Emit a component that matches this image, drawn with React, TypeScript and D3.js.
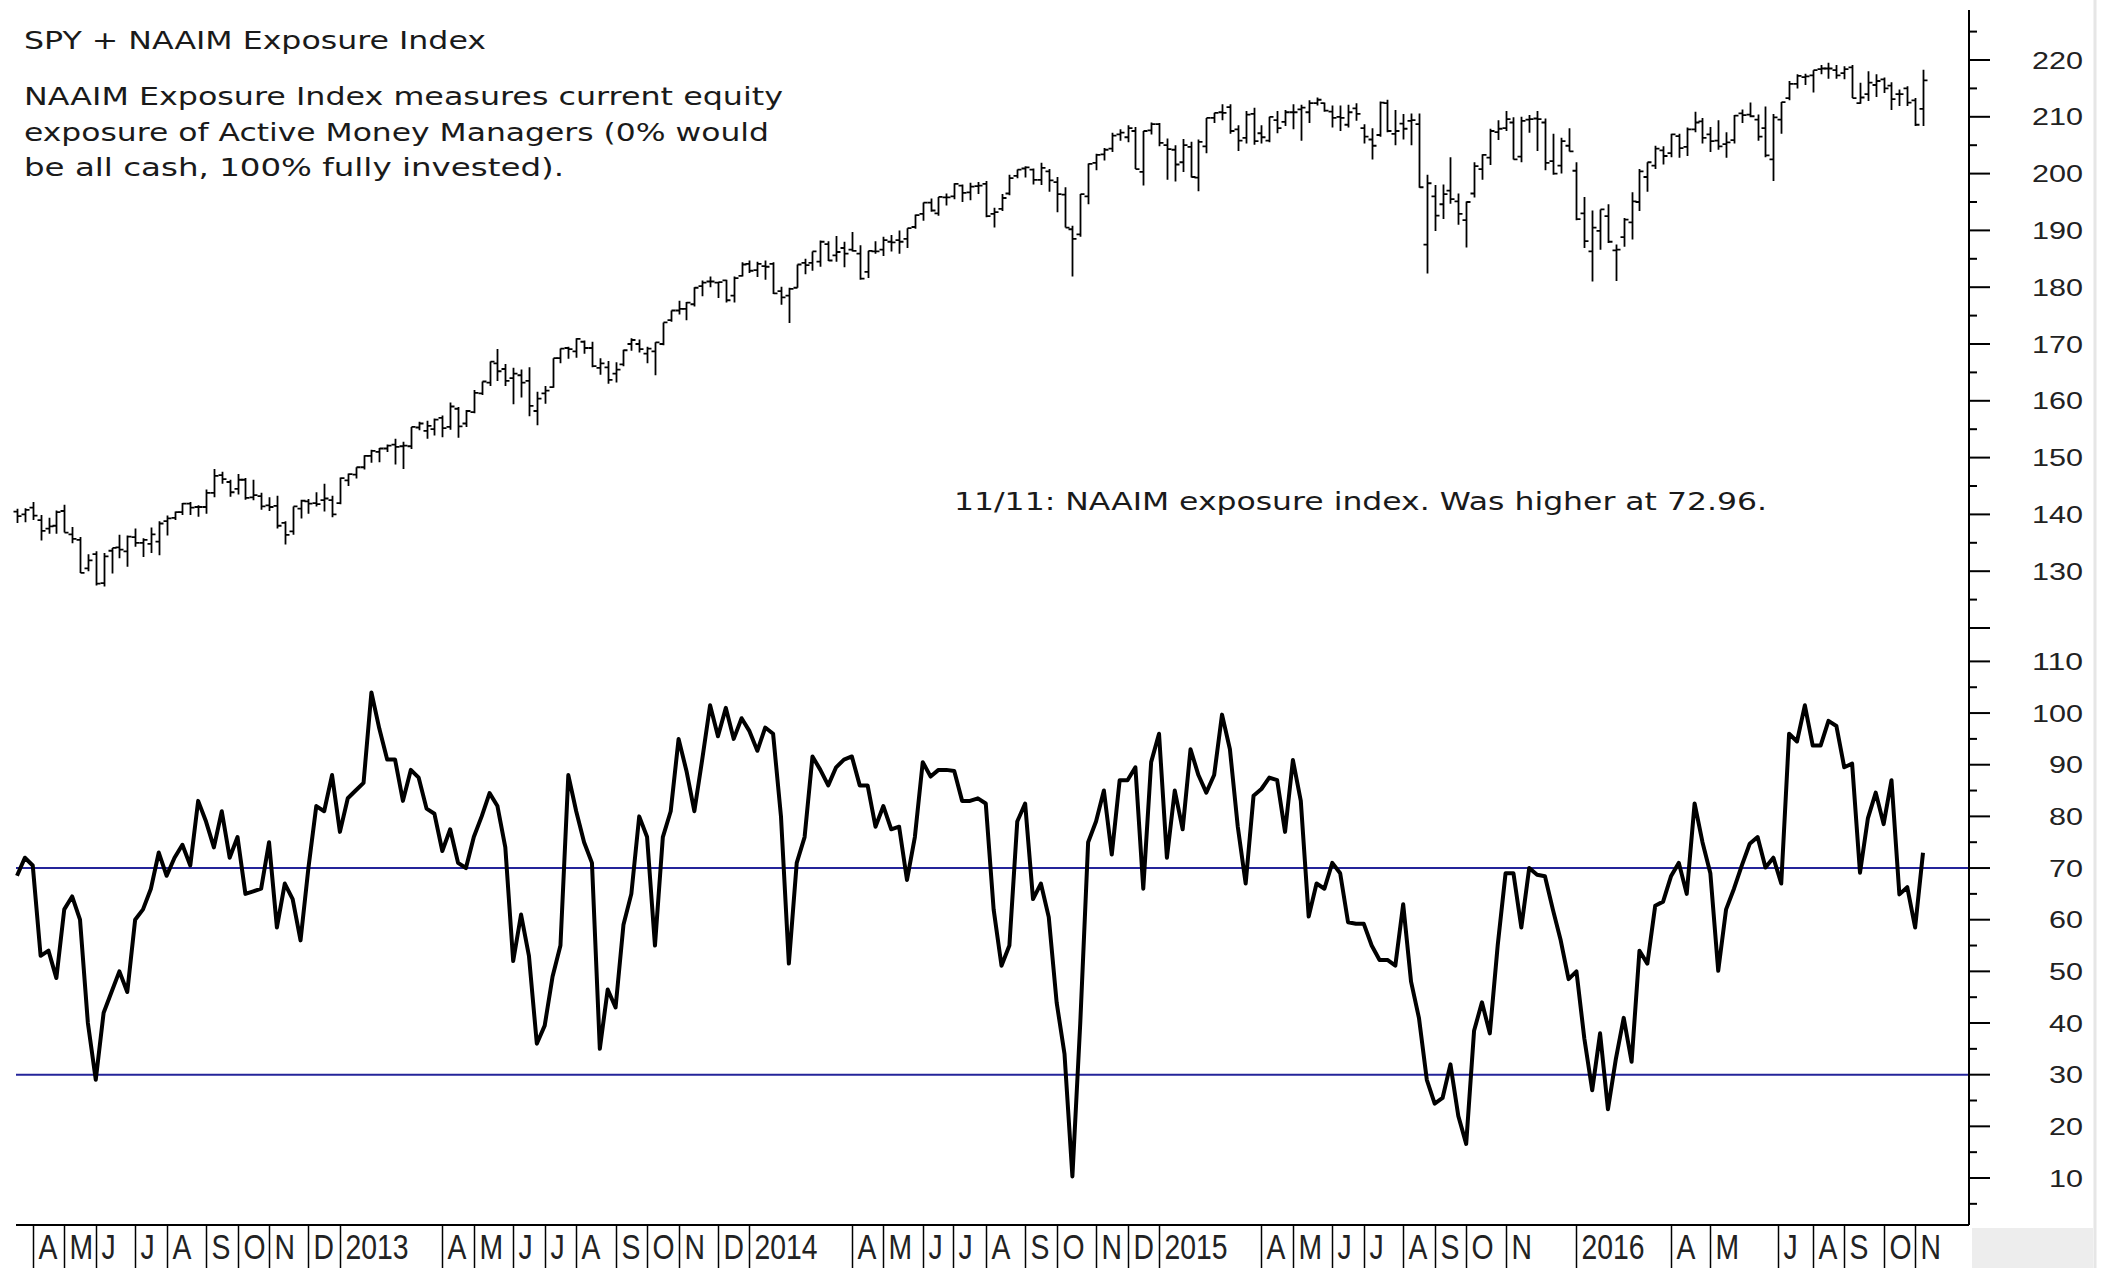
import { useEffect, useRef } from "react";
import * as d3 from "d3";

// first weekly bar (Friday); one bar per week after that
const START = "2012-03-23";

// SPY weekly bars: [open, high, low, close]
const spy2012 = [
  [140.5, 141.0, 138.5, 139.7], [140.0, 141.1, 138.6, 140.8], [141.2, 142.2, 139.0, 139.8], [139.0, 139.9, 135.4, 137.1],
  [137.5, 139.4, 136.6, 137.9], [138.0, 140.7, 136.6, 140.4], [140.6, 141.7, 136.8, 136.8], [136.5, 137.8, 134.9, 135.7],
  [135.5, 136.0, 129.7, 129.7], [130.5, 133.0, 130.0, 131.9], [133.0, 133.5, 127.5, 127.8], [127.9, 133.2, 127.3, 132.6],
  [133.6, 134.1, 129.6, 134.1], [134.2, 136.4, 132.3, 133.8], [133.5, 136.3, 130.8, 136.1], [136.0, 137.5, 134.3, 135.0],
  [135.0, 135.8, 132.5, 135.5], [134.8, 137.7, 133.2, 136.5], [135.2, 138.8, 132.8, 138.4], [138.8, 139.8, 136.3, 139.3],
  [139.4, 140.5, 139.0, 140.4], [140.4, 142.0, 139.9, 141.9], [141.9, 142.2, 139.9, 141.2], [141.3, 141.6, 139.6, 141.3],
  [141.3, 144.4, 140.1, 143.8], [143.8, 148.0, 143.0, 146.8], [146.9, 147.5, 145.4, 146.2], [145.7, 146.1, 143.1, 143.9],
  [144.5, 147.1, 143.5, 146.1], [146.1, 146.4, 142.6, 142.9], [143.0, 146.1, 142.5, 143.4], [143.2, 143.8, 140.8, 141.4],
  [141.6, 143.0, 140.6, 141.3], [141.5, 143.3, 137.5, 138.0], [138.5, 138.8, 134.7, 136.4], [137.0, 141.4, 136.4, 141.4],
  [141.0, 142.6, 139.3, 142.4], [142.3, 142.7, 140.1, 141.9], [142.0, 143.9, 141.4, 141.8], [142.5, 145.4, 140.5, 142.8],
  [142.5, 143.3, 139.5, 140.0],
];
const spy2013 = [
  [142.0, 146.5, 141.8, 146.4], [146.0, 147.2, 145.0, 147.1], [147.0, 148.3, 146.3, 148.3], [148.3, 150.4, 147.9, 150.3],
  [150.3, 151.4, 149.1, 151.2], [151.0, 151.7, 149.2, 151.6], [151.6, 152.3, 151.0, 152.1], [152.3, 153.3, 148.8, 151.9],
  [152.0, 152.8, 148.0, 152.1], [152.0, 155.4, 151.5, 155.4], [155.3, 156.3, 154.8, 156.0], [154.7, 156.5, 153.3, 155.6],
  [155.0, 156.9, 153.9, 156.7], [157.0, 157.4, 153.6, 155.2], [155.4, 159.7, 154.9, 159.0], [158.6, 158.9, 153.5, 155.5],
  [156.0, 158.4, 155.4, 158.2], [158.0, 161.9, 157.8, 161.4], [161.3, 163.4, 161.0, 163.4], [163.2, 166.9, 162.6, 166.9],
  [166.6, 169.1, 163.5, 165.2], [165.6, 166.5, 162.6, 163.5], [164.0, 165.8, 159.4, 164.8], [164.5, 165.5, 160.6, 163.2],
  [163.5, 165.9, 157.3, 159.1], [158.2, 161.6, 155.7, 160.4], [161.3, 162.6, 159.5, 161.8], [162.4, 167.5, 162.3, 167.5],
  [167.5, 169.2, 166.6, 169.2], [169.3, 169.5, 167.4, 169.1], [168.7, 171.0, 167.6, 170.9], [170.4, 170.6, 168.3, 169.3],
  [169.3, 170.4, 165.9, 166.1], [165.8, 167.5, 164.6, 166.6], [165.9, 167.0, 163.0, 163.7], [164.8, 166.8, 163.2, 165.5],
  [166.4, 169.0, 166.1, 168.9], [170.0, 171.0, 168.8, 170.7], [170.0, 170.8, 168.5, 169.1], [168.3, 169.5, 166.6, 169.2],
  [168.7, 170.3, 164.5, 170.3], [170.0, 173.8, 169.8, 173.8], [174.2, 175.9, 173.9, 175.9], [175.9, 177.6, 175.2, 176.2],
  [176.2, 177.4, 174.2, 177.3], [177.0, 180.0, 176.6, 179.9], [180.2, 181.2, 178.4, 180.8], [181.0, 181.9, 180.0, 181.0],
  [180.8, 180.9, 178.1, 180.9], [181.2, 181.3, 177.3, 177.7], [178.5, 181.9, 177.3, 181.6], [182.0, 184.4, 181.9, 184.0],
];
const spy2014 = [
  [184.1, 184.7, 182.5, 182.9], [183.0, 184.5, 181.8, 184.1], [183.7, 184.7, 181.3, 183.6], [184.1, 184.4, 178.8, 178.9],
  [179.3, 180.1, 176.9, 178.2], [178.5, 179.9, 173.7, 179.7], [179.9, 184.0, 179.9, 184.0], [184.3, 185.0, 182.3, 183.9],
  [184.3, 186.3, 182.9, 186.3], [184.5, 188.2, 183.6, 188.0], [187.6, 188.1, 184.6, 184.7], [185.6, 189.0, 184.5, 186.2],
  [186.9, 188.0, 183.5, 185.9], [186.6, 189.7, 186.3, 186.4], [185.9, 187.4, 181.3, 181.5], [182.7, 186.4, 181.6, 186.4],
  [186.3, 188.1, 185.9, 186.3], [186.6, 188.9, 185.5, 188.3], [188.0, 189.2, 186.3, 187.9], [188.3, 190.0, 185.9, 188.0],
  [188.5, 190.4, 186.9, 190.4], [190.6, 192.8, 190.3, 192.7], [192.9, 194.9, 191.7, 194.9], [194.9, 195.6, 193.3, 193.5],
  [193.0, 195.9, 192.6, 195.9], [195.8, 196.5, 194.4, 195.8], [196.0, 198.3, 195.5, 198.2], [197.9, 198.1, 195.0, 196.6],
  [196.7, 198.4, 195.3, 197.7], [197.8, 198.5, 196.4, 197.9], [198.2, 198.7, 192.3, 192.5], [192.9, 194.0, 190.5, 193.2],
  [193.8, 196.4, 193.4, 195.7], [196.5, 199.8, 196.2, 199.2], [199.6, 200.7, 199.2, 200.7], [200.9, 201.3, 199.3, 201.1],
  [200.7, 200.9, 198.1, 198.9], [198.9, 201.9, 198.0, 201.0], [200.4, 200.8, 196.8, 198.8], [198.5, 199.4, 193.2, 196.4],
  [196.3, 197.6, 190.5, 190.5], [190.2, 190.8, 181.9, 188.5], [189.3, 196.4, 188.9, 196.4], [196.0, 201.8, 194.6, 201.7],
  [201.9, 203.5, 200.6, 203.3], [203.4, 204.5, 202.3, 204.2], [204.4, 207.2, 203.8, 206.7], [206.9, 207.8, 205.8, 207.2],
  [206.4, 208.5, 205.5, 208.0], [207.5, 208.2, 200.8, 200.8], [200.3, 207.5, 197.9, 207.5], [207.6, 209.0, 206.9, 208.7],
];
const spy2015 = [
  [208.7, 208.9, 204.8, 205.4], [205.0, 206.2, 198.9, 204.3], [204.2, 205.0, 198.6, 201.6], [202.0, 206.1, 200.3, 205.0],
  [204.7, 205.6, 199.3, 199.4], [199.3, 206.0, 196.9, 205.6], [204.8, 209.8, 203.6, 209.8], [209.8, 210.7, 208.9, 210.7],
  [210.8, 212.2, 209.4, 210.7], [211.7, 212.2, 207.0, 207.5], [207.8, 208.5, 204.0, 205.8], [206.3, 211.0, 205.3, 210.4],
  [210.5, 211.6, 205.1, 205.7], [207.1, 208.5, 205.3, 206.4], [205.8, 210.0, 205.5, 210.0], [209.4, 211.0, 207.1, 208.0],
  [209.1, 211.2, 208.4, 210.8], [210.8, 212.2, 207.8, 210.8], [211.3, 212.1, 205.8, 211.6], [210.8, 212.9, 208.9, 212.4],
  [212.4, 213.4, 212.0, 213.0], [212.4, 212.5, 210.9, 211.1], [210.9, 212.0, 208.1, 209.8], [210.0, 212.0, 207.5, 209.8],
  [208.6, 212.1, 208.1, 210.8], [211.5, 212.4, 209.3, 210.5], [208.0, 208.7, 205.3, 206.5], [206.0, 208.0, 202.5, 204.9],
  [206.8, 212.7, 206.5, 212.5], [212.4, 213.0, 207.3, 207.5], [207.0, 211.2, 205.0, 207.5], [208.8, 210.5, 206.0, 207.9],
  [209.3, 210.6, 205.0, 209.4], [208.7, 210.6, 197.5, 197.6], [187.5, 199.8, 182.4, 198.3], [196.0, 198.0, 189.9, 192.6],
  [194.6, 198.1, 192.0, 196.4], [197.0, 202.9, 194.7, 195.5], [195.1, 196.5, 191.0, 192.9], [191.8, 195.1, 187.0, 195.0],
  [196.5, 202.0, 195.8, 201.3], [200.8, 203.4, 198.9, 203.3], [202.8, 207.9, 201.5, 207.5], [207.3, 209.4, 205.9, 207.9],
  [208.0, 211.0, 207.5, 209.6], [209.0, 209.9, 202.5, 202.5], [203.0, 210.0, 202.0, 209.3], [209.5, 210.3, 207.2, 209.6],
  [209.7, 211.0, 204.0, 209.6], [209.0, 209.7, 200.6, 201.9], [202.2, 207.0, 199.8, 200.0], [201.4, 206.3, 200.0, 205.7],
  [204.9, 208.0, 203.9, 203.9],
];
const spy2016 = [
  [200.5, 202.0, 191.8, 192.0], [193.0, 195.9, 186.9, 188.1], [186.3, 193.5, 181.0, 190.5], [189.9, 193.7, 186.6, 193.7],
  [192.5, 194.6, 187.8, 188.0], [186.5, 187.5, 181.1, 186.6], [188.8, 192.2, 187.1, 191.9], [191.4, 196.7, 188.4, 195.1],
  [195.0, 200.8, 193.4, 200.4], [199.4, 202.0, 196.8, 202.0], [201.4, 204.9, 200.8, 204.4], [204.1, 204.8, 201.6, 203.1],
  [203.6, 207.0, 202.9, 206.9], [206.6, 207.0, 202.8, 204.5], [204.7, 208.1, 203.1, 207.8], [207.8, 210.9, 207.3, 209.0],
  [209.2, 209.8, 205.3, 206.3], [206.9, 208.2, 203.8, 205.7], [205.8, 209.4, 204.2, 204.8], [205.2, 207.3, 202.8, 205.5],
  [205.9, 210.3, 205.3, 210.2], [210.6, 211.3, 208.9, 210.3], [210.4, 212.5, 209.9, 210.1], [209.5, 210.4, 205.8, 206.5],
  [208.0, 211.8, 202.9, 203.2], [202.5, 210.5, 198.7, 209.9], [209.5, 212.6, 207.0, 212.6], [213.3, 216.3, 212.9, 215.8],
  [215.8, 217.5, 215.0, 217.2], [217.0, 217.6, 215.6, 217.1], [217.3, 218.2, 214.3, 218.2], [218.4, 219.1, 217.5, 218.5],
  [218.5, 219.5, 216.7, 218.5], [218.2, 219.1, 216.7, 217.3], [217.7, 218.9, 216.6, 218.4], [218.7, 219.1, 213.3, 213.3],
  [212.4, 216.0, 212.3, 213.4], [214.0, 218.0, 212.8, 216.0], [215.6, 217.5, 213.5, 216.3], [216.6, 216.9, 214.2, 215.0],
  [215.5, 216.1, 211.2, 213.1], [214.0, 214.8, 211.9, 214.0], [215.0, 215.4, 211.9, 212.5], [212.9, 213.3, 208.4, 208.6],
  [211.4, 218.3, 208.4, 216.4],
];

// NAAIM exposure index, weekly, same weeks as the bars
const naaim2012 = [
  68.5, 72, 70.5, 53, 54, 48.7, 62, 64.5, 60, 40, 29, 42, 46, 50, 46, 60, 62, 66, 73, 68.5,
  72, 74.5, 70.5, 83, 79, 74, 81, 72, 76, 65, 65.5, 66, 75, 58.5, 67, 64, 56, 70, 82, 81, 88,
];
const naaim2013 = [
  77, 83.5, 85, 86.5, 104, 97, 91, 91, 83, 89, 87.5, 81.5, 80.5, 73.3, 77.5, 71, 70, 76, 80, 84.5,
  82, 74, 52, 61, 53, 36, 39.5, 49, 55, 88, 81, 75, 71, 35, 46.5, 43, 59, 65, 80, 76,
  55, 76, 81, 95, 88.8, 81, 91, 101.5, 95.5, 101, 95, 99,
];
const naaim2014 = [
  96.5, 92.7, 97.2, 96, 80, 51.5, 71, 76, 91.6, 89, 86, 89.5, 91, 91.6, 86, 86, 78, 82, 77.5, 78,
  67.7, 76, 90.5, 87.7, 89, 89, 88.8, 83, 83, 83.5, 82.5, 62, 51.1, 55, 79, 82.5, 64, 67, 60.5, 44,
  34, 10.3, 40, 75, 79, 85, 72.6, 87, 87, 89.5, 66, 90.5,
];
const naaim2015 = [
  96, 72, 85, 77.5, 93, 88, 84.6, 88, 99.7, 93, 78, 67, 84, 85.3, 87.5, 87, 77, 90.9, 83, 60.6,
  67, 66, 71, 69, 59.5, 59.2, 59.2, 55, 52.2, 52.2, 51.1, 63, 48, 41, 29, 24.4, 25.5, 32, 22, 16.6,
  38.5, 44, 38, 55, 69, 69, 58.5, 70, 68.7, 68.4, 62, 56, 48.5,
];
const naaim2016 = [
  50, 37, 27, 38, 23.3, 33, 41, 32.5, 54, 51.5, 62.7, 63.5, 68.4, 71, 65, 82.5, 75, 69, 50.1, 62,
  66, 70.5, 74.7, 76, 70.1, 72, 67, 96, 94.5, 101.5, 93.7, 93.7, 98.5, 97.5, 89.5, 90.2, 69.1, 79.6, 84.6, 78.5,
  87, 64.9, 66.3, 58.5, 72.96,
];

// bottom axis: first bar of each labelled month
const monthTicks: [string, string][] = [
  ["2012-04-06", "A"], ["2012-05-04", "M"], ["2012-06-01", "J"], ["2012-07-06", "J"], ["2012-08-03", "A"],
  ["2012-09-07", "S"], ["2012-10-05", "O"], ["2012-11-02", "N"], ["2012-12-07", "D"],
  ["2013-01-04", "2013"], ["2013-04-05", "A"], ["2013-05-03", "M"], ["2013-06-07", "J"], ["2013-07-05", "J"],
  ["2013-08-02", "A"], ["2013-09-06", "S"], ["2013-10-04", "O"], ["2013-11-01", "N"], ["2013-12-06", "D"],
  ["2014-01-03", "2014"], ["2014-04-04", "A"], ["2014-05-02", "M"], ["2014-06-06", "J"], ["2014-07-03", "J"],
  ["2014-08-01", "A"], ["2014-09-05", "S"], ["2014-10-03", "O"], ["2014-11-07", "N"], ["2014-12-05", "D"],
  ["2015-01-02", "2015"], ["2015-04-03", "A"], ["2015-05-01", "M"], ["2015-06-05", "J"], ["2015-07-03", "J"],
  ["2015-08-07", "A"], ["2015-09-04", "S"], ["2015-10-02", "O"], ["2015-11-06", "N"],
  ["2016-01-08", "2016"], ["2016-04-01", "A"], ["2016-05-06", "M"], ["2016-07-05", "J"], ["2016-08-05", "A"],
  ["2016-09-02", "S"], ["2016-10-07", "O"], ["2016-11-04", "N"],
];

const upperLabels = [130, 140, 150, 160, 170, 180, 190, 200, 210, 220];
const upperMinor = [125, 135, 145, 155, 165, 175, 185, 195, 205, 215, 225];
const lowerLabels = [10, 20, 30, 40, 50, 60, 70, 80, 90, 100, 110];
const lowerMinor = [5, 15, 25, 35, 45, 55, 65, 75, 85, 95, 105];
const bands = [30, 70];

const titleLines = [
  "SPY + NAAIM Exposure Index",
  "NAAIM Exposure Index measures current equity",
  "exposure of Active Money Managers (0% would",
  "be all cash, 100% fully invested).",
];
const note = "11/11: NAAIM exposure index. Was higher at 72.96.";

export default function App() {
  const svgRef = useRef<SVGSVGElement>(null);

  useEffect(() => {
    if (!svgRef.current) return;
    const svg = d3.select(svgRef.current);
    svg.selectAll("*").remove();

    const axisX = 1969;
    const plotLeft = 16;
    const plotBottom = 1225;
    const ink = "#1a1a1a";

    const spy = [...spy2012, ...spy2013, ...spy2014, ...spy2015, ...spy2016];
    const naaim = [...naaim2012, ...naaim2013, ...naaim2014, ...naaim2015, ...naaim2016];
    const parse = d3.timeParse("%Y-%m-%d");
    const start = parse(START)!;
    const dates = spy.map((_, i) => d3.timeDay.offset(start, 7 * i));

    const x = d3.scaleTime().domain([dates[0], dates[dates.length - 1]]).range([17, 1923]);
    const yUp = d3.scaleLinear().domain([120, 220]).range([628, 60]);
    const yLo = d3.scaleLinear().domain([10, 110]).range([1178, 661.4]);

    svg.append("rect").attr("width", 2105).attr("height", 1268).attr("fill", "#fff");
    // grey margins at the far right
    svg.append("rect").attr("x", 1972).attr("y", 1228).attr("width", 121).attr("height", 40).attr("fill", "#ededed");
    svg.append("line").attr("x1", 2095).attr("x2", 2095).attr("y1", 0).attr("y2", 1268)
      .attr("stroke", "#e6e6e6").attr("stroke-width", 3);

    // text block
    const titleY = [49, 105, 141, 176];
    const titleW = [462, 759, 745, 540];
    svg.selectAll(".title").data(titleLines).enter().append("text")
      .attr("x", 24).attr("y", (_, i) => titleY[i])
      .attr("font-family", "'DejaVu Sans', Verdana, sans-serif").attr("font-size", 24.5)
      .attr("fill", ink)
      .attr("textLength", (_, i) => titleW[i]).attr("lengthAdjust", "spacingAndGlyphs")
      .text((d) => d);

    svg.append("text").attr("x", 954).attr("y", 510)
      .attr("font-family", "'DejaVu Sans', Verdana, sans-serif").attr("font-size", 24.5)
      .attr("fill", ink).attr("textLength", 813).attr("lengthAdjust", "spacingAndGlyphs")
      .text(note);

    // reference bands
    svg.selectAll(".band").data(bands).enter().append("line")
      .attr("x1", plotLeft).attr("x2", axisX)
      .attr("y1", (d) => yLo(d)).attr("y2", (d) => yLo(d))
      .attr("stroke", "#24249a").attr("stroke-width", 2);

    // SPY OHLC bars
    const barPath = (d: number[], i: number) => {
      const cx = Math.round(x(dates[i])) + 0.5;
      const [o, h, l, c] = d;
      return `M${cx},${yUp(h)}V${yUp(l)}M${cx - 4},${yUp(o)}H${cx}M${cx},${yUp(c)}H${cx + 4}`;
    };
    svg.append("g").selectAll("path").data(spy).enter().append("path")
      .attr("d", (d, i) => barPath(d, i))
      .attr("fill", "none").attr("stroke", "#000").attr("stroke-width", 1.8);

    // NAAIM line
    const line = d3.line<number>().x((_, i) => x(dates[i])).y((d) => yLo(d));
    svg.append("path").datum(naaim).attr("d", line)
      .attr("fill", "none").attr("stroke", "#000").attr("stroke-width", 4)
      .attr("stroke-linejoin", "round");

    // right axis
    const axis = svg.append("g").attr("stroke", "#000").attr("stroke-width", 2);
    axis.append("line").attr("x1", axisX).attr("x2", axisX).attr("y1", 10).attr("y2", plotBottom);
    const majorUp = [120, ...upperLabels];
    axis.selectAll(".mu").data(majorUp).enter().append("line")
      .attr("x1", axisX).attr("x2", axisX + 21).attr("y1", (d) => yUp(d)).attr("y2", (d) => yUp(d));
    axis.selectAll(".nu").data(upperMinor).enter().append("line")
      .attr("x1", axisX).attr("x2", axisX + 8).attr("y1", (d) => yUp(d)).attr("y2", (d) => yUp(d));
    axis.selectAll(".ml").data(lowerLabels).enter().append("line")
      .attr("x1", axisX).attr("x2", axisX + 21).attr("y1", (d) => yLo(d)).attr("y2", (d) => yLo(d));
    axis.selectAll(".nl").data(lowerMinor).enter().append("line")
      .attr("x1", axisX).attr("x2", axisX + 8).attr("y1", (d) => yLo(d)).attr("y2", (d) => yLo(d));

    const tickLabels = [
      ...upperLabels.map((v) => ({ v, y: yUp(v) })),
      ...lowerLabels.map((v) => ({ v, y: yLo(v) })),
    ];
    svg.selectAll(".tl").data(tickLabels).enter().append("text")
      .attr("x", 2083).attr("y", (d) => d.y).attr("dy", "0.36em")
      .attr("text-anchor", "end")
      .attr("font-family", "'Liberation Sans', Arial, sans-serif").attr("font-size", 24)
      .attr("fill", "#222")
      .attr("textLength", (d) => String(d.v).length * 17).attr("lengthAdjust", "spacingAndGlyphs")
      .text((d) => d.v);

    // bottom date axis
    svg.append("line").attr("x1", plotLeft).attr("x2", axisX).attr("y1", plotBottom).attr("y2", plotBottom)
      .attr("stroke", "#000").attr("stroke-width", 2);
    const ticks = monthTicks.map(([d, t]) => ({ x: Math.round(x(parse(d)!)) + 0.5, t }));
    svg.selectAll(".sep").data(ticks).enter().append("line")
      .attr("x1", (d) => d.x).attr("x2", (d) => d.x).attr("y1", plotBottom).attr("y2", 1268)
      .attr("stroke", "#000").attr("stroke-width", 1.5);
    svg.selectAll(".ml-t").data(ticks).enter().append("text")
      .attr("transform", (d) => `translate(${d.x + 5},1259) scale(0.81,1)`)
      .attr("font-family", "'Liberation Sans', Arial, sans-serif").attr("font-size", 35)
      .attr("fill", "#222")
      .text((d) => d.t);
  }, []);

  return (
    <svg
      ref={svgRef}
      width={2105}
      height={1268}
      style={{ position: "absolute", left: 0, top: 0, display: "block" }}
    />
  );
}
